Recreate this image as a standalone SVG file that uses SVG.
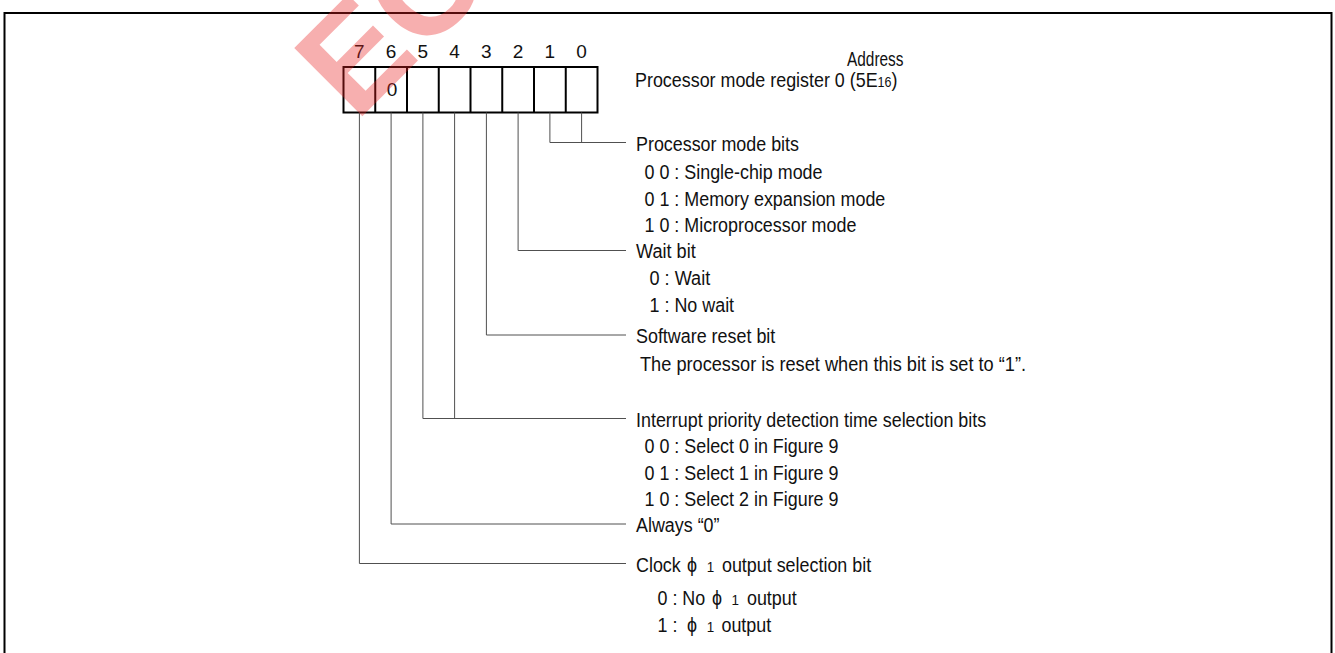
<svg xmlns="http://www.w3.org/2000/svg" width="1335" height="653" viewBox="0 0 1335 653">
<style>
  .lbl { font-family: "Liberation Sans", Arial, sans-serif; font-size: 20px; fill: #111; }
  .num { font-family: "Liberation Sans", Arial, sans-serif; font-size: 19px; fill: #111; text-anchor: middle; }
  .phi { font-family: "Liberation Sans", "DejaVu Sans", sans-serif; font-size: 20px; }
  .sub { font-size: 15px; }
  .conn { stroke: #505050; stroke-width: 1; fill: none; }
  .cell { stroke: #000; stroke-width: 2; fill: #fff; }
</style>
<rect x="0" y="0" width="1335" height="653" fill="#fff"/>
<g id="frame">
  <path d="M4.5,660 V13 H1331.5 V660" fill="none" stroke="#000" stroke-width="2"/>
</g>
<g id="register">
  <rect class="cell" x="343.5" y="67" width="254" height="45.5"/>
  <path d="M375.25,67 V112.5 M407,67 V112.5 M438.75,67 V112.5 M470.5,67 V112.5 M502.25,67 V112.5 M534,67 V112.5 M565.75,67 V112.5" stroke="#000" stroke-width="2" fill="none"/>
  <text class="num" x="359.4" y="58">7</text>
  <text class="num" x="391.1" y="58">6</text>
  <text class="num" x="422.9" y="58">5</text>
  <text class="num" x="454.6" y="58">4</text>
  <text class="num" x="486.4" y="58">3</text>
  <text class="num" x="518.1" y="58">2</text>
  <text class="num" x="549.9" y="58">1</text>
  <text class="num" x="581.6" y="58">0</text>
  <text class="num" x="392" y="96" font-size="20.5">0</text>
</g>
<g id="title">
  <text class="lbl" x="847" y="66" font-size="16.5" textLength="56.5" lengthAdjust="spacingAndGlyphs">Address</text>
  <text class="lbl" transform="translate(635,86.7) scale(0.895,1)">Processor mode register 0 (5E<tspan x="271" font-size="14">16</tspan><tspan x="286.6">)</tspan></text>
</g>
<g id="connectors">
  <path class="conn" d="M549.9,112.5 V142.5 H626 M581.6,112.5 V142.5"/>
  <path class="conn" d="M518.1,112.5 V250.5 H626"/>
  <path class="conn" d="M486.4,112.5 V335 H626"/>
  <path class="conn" d="M422.9,112.5 V418.5 H626 M454.6,112.5 V418.5"/>
  <path class="conn" d="M391.1,112.5 V524 H626"/>
  <path class="conn" d="M359.4,112.5 V563.5 H626"/>
</g>
<g id="field-processor-mode">
  <text class="lbl" x="636" y="151" textLength="163" lengthAdjust="spacingAndGlyphs">Processor mode bits</text>
  <text class="lbl" x="644.5" y="178.5" textLength="178" lengthAdjust="spacingAndGlyphs">0 0 : Single-chip mode</text>
  <text class="lbl" x="644.5" y="205.5" textLength="240.8" lengthAdjust="spacingAndGlyphs">0 1 : Memory expansion mode</text>
  <text class="lbl" x="644.5" y="232" textLength="211.9" lengthAdjust="spacingAndGlyphs">1 0 : Microprocessor mode</text>
</g>
<g id="field-wait">
  <text class="lbl" x="636" y="258" textLength="59.7" lengthAdjust="spacingAndGlyphs">Wait bit</text>
  <text class="lbl" x="649.5" y="285" textLength="60.7" lengthAdjust="spacingAndGlyphs">0 : Wait</text>
  <text class="lbl" x="649.5" y="312" textLength="84.6" lengthAdjust="spacingAndGlyphs">1 : No wait</text>
</g>
<g id="field-software-reset">
  <text class="lbl" x="636" y="343" textLength="139.3" lengthAdjust="spacingAndGlyphs">Software reset bit</text>
  <text class="lbl" x="640" y="370.5" textLength="386" lengthAdjust="spacingAndGlyphs">The processor is reset when this bit is set to “1”.</text>
</g>
<g id="field-interrupt-priority">
  <text class="lbl" x="636" y="426.5" textLength="350.2" lengthAdjust="spacingAndGlyphs">Interrupt priority detection time selection bits</text>
  <text class="lbl" x="644.5" y="453" textLength="194" lengthAdjust="spacingAndGlyphs">0 0 : Select 0 in Figure 9</text>
  <text class="lbl" x="644.5" y="479.5" textLength="194" lengthAdjust="spacingAndGlyphs">0 1 : Select 1 in Figure 9</text>
  <text class="lbl" x="644.5" y="506" textLength="194" lengthAdjust="spacingAndGlyphs">1 0 : Select 2 in Figure 9</text>
</g>
<g id="field-always-0">
  <text class="lbl" x="636" y="531.5" textLength="83.5" lengthAdjust="spacingAndGlyphs">Always “0”</text>
</g>
<g id="field-clock-output">
  <text class="lbl" transform="translate(636,572) scale(0.895,1)">Clock <tspan class="phi" x="57">ϕ</tspan><tspan class="sub" x="75"> 1</tspan><tspan x="90.5"> output selection bit</tspan></text>
  <text class="lbl" transform="translate(657.5,605) scale(0.895,1)">0 : No <tspan class="phi" x="61">ϕ</tspan><tspan class="sub" x="78.5"> 1</tspan><tspan x="94.4"> output</tspan></text>
  <text class="lbl" transform="translate(657.5,632) scale(0.895,1)">1 : <tspan class="phi" x="33">ϕ</tspan><tspan class="sub" x="51"> 1</tspan><tspan x="65.9"> output</tspan></text>
</g>
<g id="watermark">
  <text x="0" y="0" transform="translate(355.7,122.7) rotate(-45)" font-family="Liberation Sans, Arial, sans-serif" font-weight="bold" font-size="140" fill="#e82020" fill-opacity="0.36">EC</text>
</g>
</svg>
